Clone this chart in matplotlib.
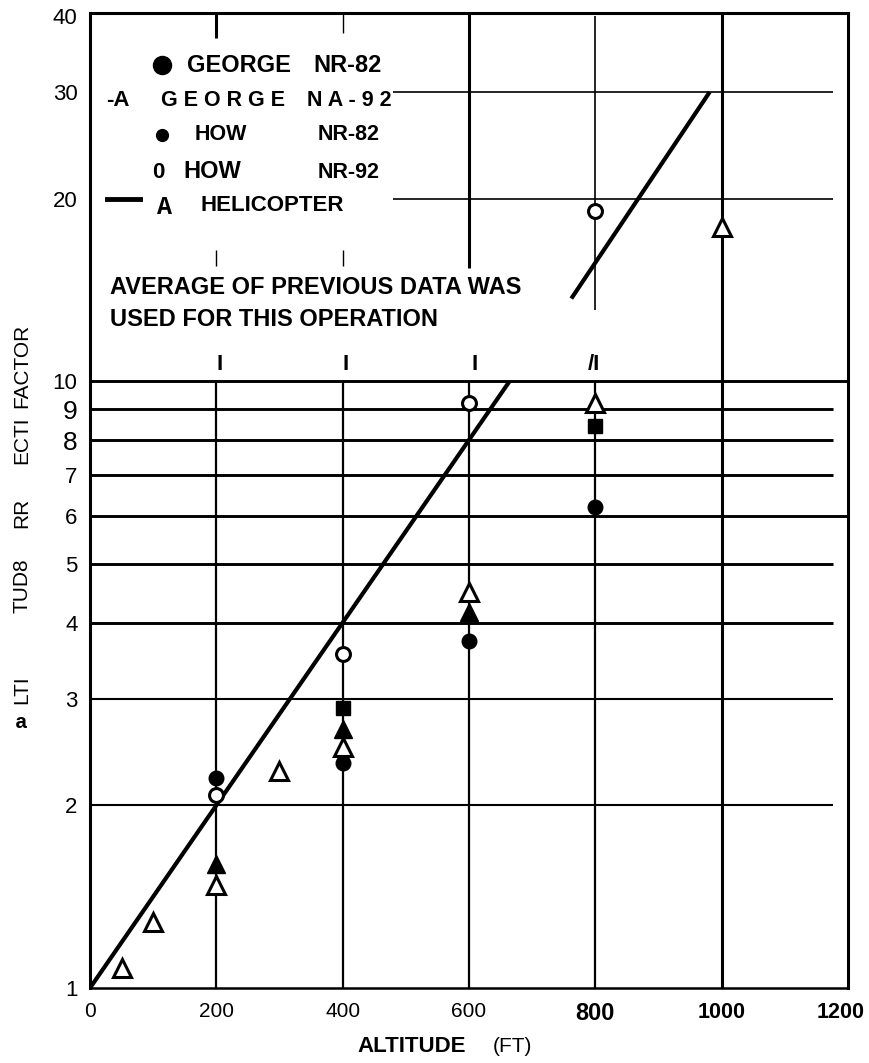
import matplotlib
matplotlib.use('Agg')
import matplotlib.pyplot as plt
from matplotlib.ticker import NullLocator
from matplotlib.transforms import offset_copy

# ---------------- data ----------------
george_nr82_x = [200, 400, 600, 800]
george_nr82_y = [2.22, 2.35, 3.73, 6.21]
george_na92_x = [200, 400, 600]
george_na92_y = [1.60, 2.67, 4.17]
how_nr82_x = [400, 800]
how_nr82_y = [2.90, 8.46]
how_nr92_x = [200, 400, 600, 800]
how_nr92_y = [2.08, 3.55, 9.2, 19.1]
heli_x = [50, 100, 200, 300, 400, 600, 800, 1000]
heli_y = [1.08, 1.285, 1.48, 2.28, 2.50, 4.50, 9.2, 18.0]

# fitted line (drawn in two pieces, broken by the note)
fit1_x = [0, 664]
fit1_y = [1, 10]
fit2_x = [762, 981]
fit2_y = [13.7, 30]

xticks = [0, 200, 400, 600, 800, 1000, 1200]
xtick_labels = ['0', '200', '400', '600', '800', '1000', '1200']
yticks = [1, 2, 3, 4, 5, 6, 7, 8, 9, 10, 20, 30, 40]
ytick_labels = ['1', '2', '3', '4', '5', '6', '7', '8', '9', '10', '20', '30', '40']

hgrid_lower = [2, 3, 4, 5, 6, 7, 8, 9, 10]
hgrid_upper = [20, 30]
vgrid_lower = [200, 400, 600, 800]

NARROW = ['Liberation Sans', 'DejaVu Sans']
SANS = ['Liberation Sans', 'DejaVu Sans']
MONO = ['Liberation Mono', 'DejaVu Sans Mono']

W, H = 870, 1063
fig = plt.figure(figsize=(W / 100, H / 100), dpi=100)
L, R, T, B = 90, 848, 13, 988
ax = fig.add_axes([L / W, 1 - B / H, (R - L) / W, (B - T) / H])
ax.set_yscale('log')
ax.set_xlim(0, 1200)
ax.set_ylim(1, 40.5)

for s in ['left', 'top', 'right']:
    ax.spines[s].set_linewidth(2.2)
ax.spines['bottom'].set_linewidth(1.8)

# ---------------- grid ----------------
for y in hgrid_lower:
    lw = 1.5 if y in (2, 3) else 2.1
    xend = 1200 if y in (6, 10) else 1176
    ax.hlines(y, 0, xend, color='black', lw=lw, zorder=1, clip_on=False)
for y in hgrid_upper:
    ax.hlines(y, 480, 1176, color='black', lw=1.2, zorder=1)
for x in vgrid_lower:
    ax.vlines(x, 1, 10, color='black', lw=1.6, zorder=1)
ax.vlines(1000, 1, 40.5, color='black', lw=2.2, zorder=1)
# partial vertical lines in the upper (note) region
ax.vlines(200, 36.9, 40.5, color='black', lw=2.2, zorder=1)
ax.vlines(400, 37.6, 40.5, color='black', lw=1.0, zorder=1)
ax.vlines([200, 400], 15.5, 16.5, color='black', lw=1.0, zorder=1)
ax.vlines(600, 15.4, 40.5, color='black', lw=2.2, zorder=1)
ax.vlines(800, 13.1, 40.0, color='black', lw=1.2, zorder=1)

# ---------------- fit line ----------------
ax.plot(fit1_x, fit1_y, color='black', lw=3.0, solid_capstyle='butt', zorder=2)
ax.plot(fit2_x, fit2_y, color='black', lw=3.0, solid_capstyle='butt', zorder=2)

# ---------------- data markers ----------------
ax.plot(george_nr82_x, george_nr82_y, 'o', ms=10.5, color='black', zorder=4, clip_on=False)
ax.plot(george_na92_x, george_na92_y, '^', ms=12.5, color='black', zorder=4)
ax.plot(how_nr82_x, how_nr82_y, 's', ms=10.5, color='black', zorder=4)
ax.plot(how_nr92_x, how_nr92_y, 'o', ms=10, mfc='white', mec='black', mew=2.2, zorder=4)
ax.plot(heli_x, heli_y, '^', ms=12.5, mfc='white', mec='black', mew=2.2, zorder=4, clip_on=False)

# ---------------- ticks ----------------
ax.yaxis.set_minor_locator(NullLocator())
ax.set_yticks(yticks)
ax.set_yticklabels(ytick_labels)
ax.set_xticks(xticks)
# last label drawn separately below (shifted left to stay inside the figure)
ax.set_xticklabels(xtick_labels[:-1] + [''])
ax.tick_params(axis='both', which='both', length=0)
ax.tick_params(axis='y', pad=9)
ax.tick_params(axis='x', pad=10)
for lab in ax.get_yticklabels():
    big = lab.get_text() in ('8', '9')
    lab.set_fontfamily(NARROW)
    lab.set_fontsize(19 if big else 16)
for lab in ax.get_xticklabels():
    t = lab.get_text()
    if t in ('800', '1000'):
        lab.set_fontfamily(SANS)
        lab.set_fontweight('bold')
        lab.set_fontsize(17 if t == '800' else 15.5)
    else:
        lab.set_fontfamily(NARROW)
        lab.set_fontsize(15)
tr = offset_copy(ax.get_xaxis_transform(), fig=fig, x=-7, y=-25, units='dots')
ax.text(xticks[-1], 0, xtick_labels[-1], transform=tr, ha='center', va='center',
        fontsize=15.5, fontweight='bold', family=SANS, clip_on=False)


def px(x, y):
    return x / W, 1 - y / H


def ftext(x, y, s, size, weight='bold', family=SANS, ha='left', va='center', **kw):
    fig.text(*px(x, y), s, fontsize=size, fontweight=weight, family=family,
             ha=ha, va=va, **kw)


def fmark(x, y, **kw):
    fx, fy = px(x, y)
    fig.lines.append(plt.Line2D([fx], [fy], transform=fig.transFigure, figure=fig, **kw))


# ---------------- legend (typed on the chart) ----------------
fmark(162, 65, marker='o', ms=13, color='black')
ftext(187, 65, 'GEORGE', 17)
ftext(313, 65, 'NR-82', 17)
ftext(106, 101, '-A', 16)
ftext(161, 101, 'G E O R G E', 15.5)
ftext(307, 101, 'N A - 9 2', 15.5)
fmark(162, 135, marker='o', ms=8.5, color='black')
ftext(195, 135, 'HOW', 15.5)
ftext(318, 135, 'NR-82', 15.5)
ftext(152, 172, '0', 16)
ftext(183, 172, 'HOW', 17)
ftext(318, 172, 'NR-92', 15.5)
x0, y0 = px(107, 199)
x1, y1 = px(140, 199)
fig.lines.append(plt.Line2D([x0, x1], [y0, y1], lw=3.5, color='black',
                            transform=fig.transFigure, figure=fig))
ftext(157, 207, 'A', 18, family=MONO)
ftext(201, 206, 'HELICOPTER', 16)

# ---------------- note ----------------
ftext(110, 287, 'AVERAGE OF PREVIOUS DATA WAS', 17)
ftext(110, 320, 'USED FOR THIS OPERATION', 17)
for xx in (220, 346, 475):
    ftext(xx, 364, 'I', 16, ha='center')
ftext(594, 364, '/I', 16, ha='center')

# ---------------- axis titles ----------------
ftext(412, 1046, 'ALTITUDE', 16, ha='center')
ftext(512, 1046, '(FT)', 15, weight='normal', family=NARROW, ha='center')

ftext(22, 366, 'FACTOR', 15, weight='normal', rotation=90, ha='center')
ftext(22, 440, 'ECTI', 15, weight='normal', rotation=90, ha='center')
ftext(22, 513, 'RR', 15, weight='normal', rotation=90, ha='center')
ftext(22, 586, 'TUD8', 15, weight='normal', rotation=90, ha='center')
ftext(22, 690, 'LTI', 15, weight='normal', rotation=90, ha='center')
ftext(21, 722, 'a', 15, weight='bold', family=MONO, ha='center')

fig.savefig('out.png', dpi=100)
